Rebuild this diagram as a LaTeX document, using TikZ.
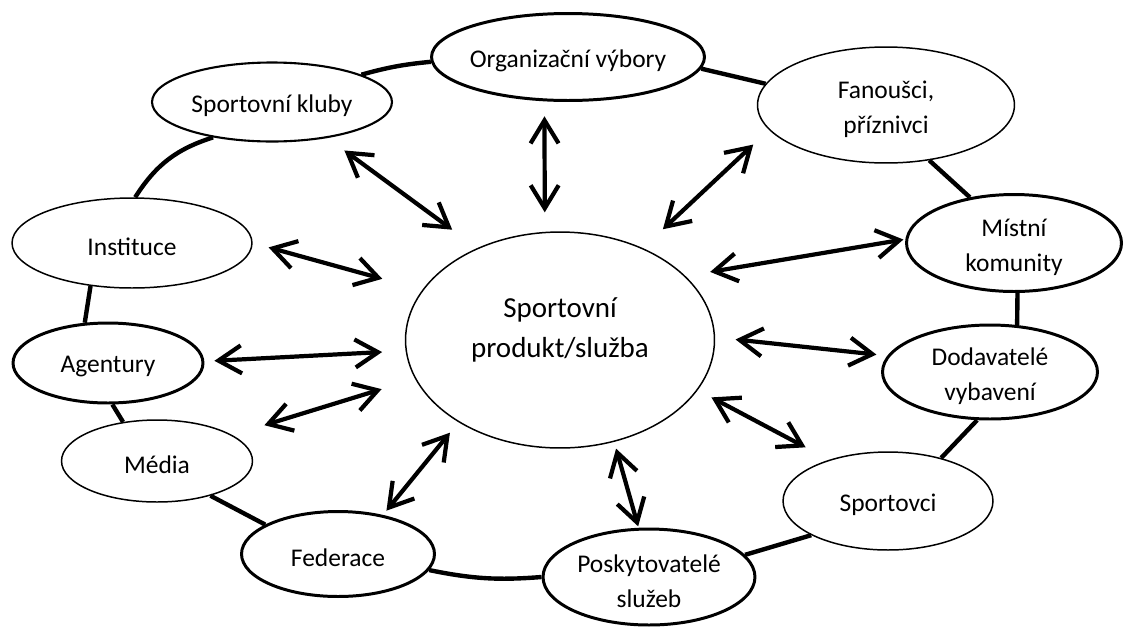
\documentclass[tikz,border=0pt]{standalone}
\usepackage{fontspec}
\setmainfont{Carlito}
\usepackage{tikz}
\usetikzlibrary{shapes.geometric,arrows.meta}
\newcommand{\lblfont}{\fontsize{14.5}{20}\selectfont}
\newcommand{\bigfont}{\fontsize{16.5}{23}\selectfont}
\tikzset{
	party/.style={ellipse, draw, fill=white, inner sep=0pt, line width=0.85pt},
	partythick/.style={party, line width=1.7pt},
	txt/.style={label={[yshift=-0.08cm]center:#1}},
	every label/.style={align=center, font=\lblfont},
	ring/.style={line width=2.5pt},
	biarrow/.style={<->, line width=2.4pt, >={Straight Barb[length=4.6mm,width=5.6mm]}},
}
\begin{document}
\begin{tikzpicture}[x=0.02cm,y=-0.02cm]
	\useasboundingbox (0,0) rectangle (1124,626);
	
	\node[party, minimum width=6.18cm, minimum height=4.32cm,
		label={[yshift=0.2cm, font=\bigfont]center:Sportovní\\produkt/služba}] (prod) at (560,340) {};
	
	\node[partythick, minimum width=5.46cm, minimum height=1.74cm, txt={Organizační výbory}] (org) at (568,57) {};
	\node[party, line width=1.2pt, minimum width=4.8cm, minimum height=1.58cm, txt={Sportovní kluby}] (kluby) at (272,102) {};
	\node[party, minimum width=5.14cm, minimum height=2.32cm, txt={Fanoušci,\\příznivci}] (fan) at (886,105) {};
	\node[party, minimum width=4.8cm, minimum height=1.8cm, txt={Instituce}] (inst) at (132,243) {};
	\node[partythick, minimum width=4.3cm, minimum height=1.94cm, txt={Místní\\komunity}] (mist) at (1014,243) {};
	\node[partythick, minimum width=3.8cm, minimum height=1.6cm, txt={Agentury}] (agent) at (108,363) {};
	\node[partythick, minimum width=4.3cm, minimum height=1.88cm, txt={Dodavatelé\\vybavení}] (dod) at (990,372) {};
	\node[party, minimum width=3.82cm, minimum height=1.64cm, txt={Média}] (media) at (157,461) {};
	\node[party, minimum width=4.2cm, minimum height=1.96cm, txt={Sportovci}] (sport) at (888,501) {};
	\node[partythick, minimum width=3.86cm, minimum height=1.7cm, txt={Federace}] (fed) at (338,554) {};
	\node[partythick, minimum width=4.24cm, minimum height=1.92cm, txt={Poskytovatelé\\služeb}] (posk) at (649,577) {};
	
	\draw[ring] (kluby.17) to[bend left=5] (org.182);
	\draw[ring] (org.355) -- (fan.170);
	\draw[ring] (fan.308) -- (mist.134);
	\draw[ring] (mist.274) -- (dod.60);
	\draw[ring] (dod.255) -- (sport.39);
	\draw[ring] (sport.204) -- (posk.13);
	\draw[ring] (posk.180) to[bend left=8] (fed.350);
	\draw[ring] (fed.158) -- (media.327);
	\draw[ring] (media.131) -- (agent.276);
	\draw[ring] (agent.120) -- (inst.226);
	\draw[ring] (inst.86) to[bend left=20] (kluby.211);
	
	\draw[biarrow, shorten <=0.42cm, shorten >=0.62cm] (kluby.-33) -- (prod.132);
	\draw[biarrow, shorten <=0.3cm, shorten >=0.39cm] (org.242) -- (prod.98);
	\draw[biarrow, shorten <=0.43cm, shorten >=0.55cm] (fan.192) -- (prod.48);
	\draw[biarrow, shorten <=0.33cm, shorten >=0.83cm] (inst.0) -- (prod.160);
	\draw[biarrow, shorten <=0.04cm, shorten >=0.5cm] (mist.178) -- (prod.27);
	\draw[biarrow, shorten <=0.2cm, shorten >=0.47cm] (agent.1) -- (prod.184);
	\draw[biarrow, shorten <=0.22cm, shorten >=0.41cm] (dod.171) -- (prod.1);
	\draw[biarrow, shorten <=0.67cm, shorten >=0.7cm] (media.19) -- (prod.195);
	\draw[biarrow, shorten <=0.53cm, shorten >=0.31cm] (sport.145) -- (prod.340);
	\draw[biarrow, shorten <=0.11cm, shorten >=0.27cm] (fed.41) -- (prod.219);
	\draw[biarrow, shorten <=0.03cm, shorten >=0.14cm] (posk.102) -- (prod.298);
\end{tikzpicture}
\end{document}
